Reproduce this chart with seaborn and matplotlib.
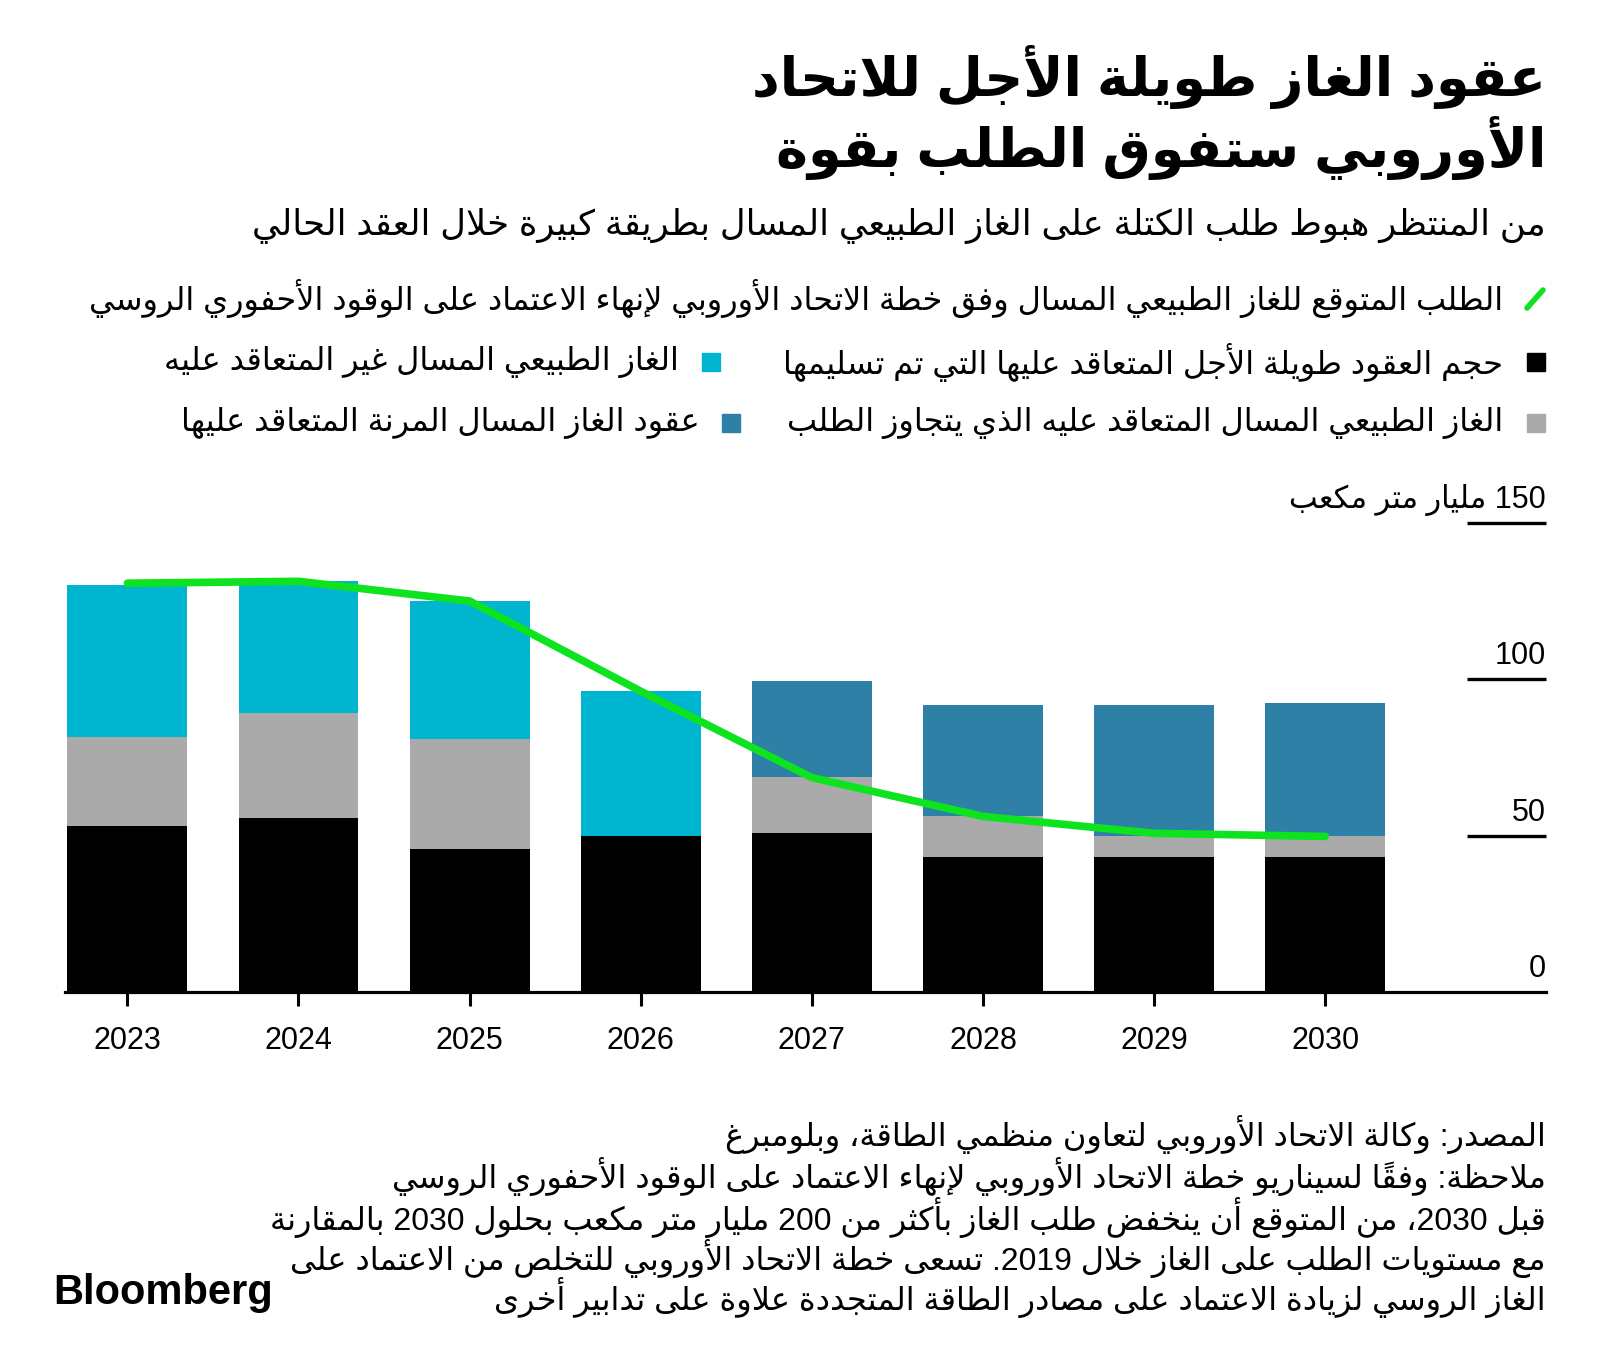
import re
import numpy as np
import pandas as pd
import matplotlib
matplotlib.use('Agg')
import matplotlib.pyplot as plt
from matplotlib.patches import Rectangle
import seaborn as sns

# values in billion cubic metres
years = ['2023', '2024', '2025', '2026', '2027', '2028', '2029', '2030']
delivered = [53.2, 55.6, 45.9, 49.9, 51.0, 43.3, 43.3, 43.3]
excess = [28.4, 33.6, 35.1, 0.0, 17.9, 13.1, 6.6, 6.6]
uncontracted = [48.4, 42.2, 44.0, 46.4, 0.0, 0.0, 0.0, 0.0]
flexible = [0.0, 0.0, 0.0, 0.0, 30.5, 35.4, 41.9, 42.4]
demand = [130.7, 131.3, 125.0, 96.2, 68.6, 56.2, 50.8, 49.8]
ytick_vals = [0, 50, 100, 150]

title_lines = ['عقود الغاز طويلة الأجل للاتحاد', 'الأوروبي ستفوق الطلب بقوة']
subtitle = 'من المنتظر هبوط طلب الكتلة على الغاز الطبيعي المسال بطريقة كبيرة خلال العقد الحالي'
lbl_demand = 'الطلب المتوقع للغاز الطبيعي المسال وفق خطة الاتحاد الأوروبي لإنهاء الاعتماد على الوقود الأحفوري الروسي'
lbl_delivered = 'حجم العقود طويلة الأجل المتعاقد عليها التي تم تسليمها'
lbl_uncontracted = 'الغاز الطبيعي المسال غير المتعاقد عليه'
lbl_excess = 'الغاز الطبيعي المسال المتعاقد عليه الذي يتجاوز الطلب'
lbl_flexible = 'عقود الغاز المسال المرنة المتعاقد عليها'
unit = 'مليار متر مكعب'
notes = [
    'المصدر: وكالة الاتحاد الأوروبي لتعاون منظمي الطاقة، وبلومبرغ',
    'ملاحظة: وفقاً لسيناريو خطة الاتحاد الأوروبي لإنهاء الاعتماد على الوقود الأحفوري الروسي',
    'قبل 2030، من المتوقع أن ينخفض طلب الغاز بأكثر من 200 مليار متر مكعب بحلول 2030 بالمقارنة',
    'مع مستويات الطلب على الغاز خلال 2019. تسعى خطة الاتحاد الأوروبي للتخلص من الاعتماد على',
    'الغاز الروسي لزيادة الاعتماد على مصادر الطاقة المتجددة علاوة على تدابير أخرى',
]

BLACK = '#000000'
GRAY = '#aaaaaa'
CYAN = '#00b5d0'
BLUE = '#2f80a7'
GREEN = '#0de31f'

# --- minimal arabic shaping + right-to-left ordering (matplotlib has no bidi) ---
counts = [1, 2, 2, 2, 2, 4, 2, 4, 2, 4, 4, 4, 4, 4, 2, 2, 2, 2, 4, 4, 4, 4, 4, 4, 4, 4,
          4, 4, 4, 4, 4, 4, 4, 2, 2, 4]
letters = list(range(0x621, 0x63B)) + list(range(0x641, 0x64B))
FORMS = {}
code = 0xFE80
for cp, n in zip(letters, counts):
    FORMS[chr(cp)] = [chr(code + k) for k in range(n)]
    code += n
LAM_ALEF = {'\u0622': '\ue000', '\u0623': '\ue001', '\u0625': '\ue002', '\u0627': '\ue003'}
for k, pua in enumerate(LAM_ALEF.values()):
    FORMS[pua] = [chr(0xFEF5 + 2 * k), chr(0xFEF6 + 2 * k)]


def is_mark(c):
    return '\u064b' <= c <= '\u065f' or c == '\u0670'


def n_forms(c):
    return 4 if c == '\u0640' else len(FORMS.get(c, []))


def ar(text):
    for alef, pua in LAM_ALEF.items():
        text = text.replace('\u0644' + alef, pua)
    out = []
    for i, c in enumerate(text):
        if c not in FORMS:
            out.append(c)
            continue
        j = i - 1
        while j >= 0 and is_mark(text[j]):
            j -= 1
        k = i + 1
        while k < len(text) and is_mark(text[k]):
            k += 1
        prev_j = j >= 0 and n_forms(text[j]) == 4
        next_j = k < len(text) and n_forms(text[k]) >= 2 and n_forms(c) == 4
        forms = FORMS[c]
        if len(forms) == 1:
            idx = 0
        elif prev_j and next_j:
            idx = 3
        elif prev_j:
            idx = 1
        elif next_j:
            idx = 2
        else:
            idx = 0
        out.append(forms[idx])
    tokens = re.findall(r'[0-9A-Za-z]+(?:[.,][0-9]+)*|.[\u064b-\u065f\u0670]*', ''.join(out))
    return ''.join(reversed(tokens))


sns.set_style('white')
plt.rcParams['font.family'] = ['Liberation Sans', 'DejaVu Sans']
plt.rcParams['text.color'] = 'black'
plt.rcParams['xtick.color'] = 'black'

df = pd.DataFrame({'year': years, 'delivered': delivered, 'excess': excess,
                   'uncontracted': uncontracted, 'flexible': flexible})
df['top'] = df['delivered'] + df['excess'] + df['uncontracted'] + df['flexible']
df['mid'] = df['delivered'] + df['excess']
top_colors = {y: (CYAN if u > 0 else BLUE) for y, u in zip(years, uncontracted)}

fig = plt.figure(figsize=(16, 13.71), dpi=100)
ax = fig.add_axes([0.0409, 0.2762, 0.9253, 0.3539])

sns.barplot(data=df, x='year', y='top', hue='year', palette=top_colors, legend=False,
            width=0.7, saturation=1, errorbar=None, linewidth=0, ax=ax)
sns.barplot(data=df, x='year', y='mid', color=GRAY, width=0.7, saturation=1,
            errorbar=None, linewidth=0, ax=ax)
sns.barplot(data=df, x='year', y='delivered', color=BLACK, width=0.7, saturation=1,
            errorbar=None, linewidth=0, ax=ax)
sns.lineplot(x=np.arange(len(years)), y=demand, color=GREEN, linewidth=5.5,
             solid_capstyle='round', ax=ax, zorder=5)

ax.set_xlim(-0.362, 8.29)
ax.set_ylim(0, 155)
ax.set_xlabel('')
ax.set_ylabel('')
ax.set_yticks([])
ax.set_xticks(range(len(years)), years)
sns.despine(ax=ax, left=True, top=True, right=True)
ax.spines['bottom'].set_linewidth(2.3)
ax.spines['bottom'].set_color('black')
ax.tick_params(axis='x', length=10, width=2.2, color='black', labelcolor='black',
               pad=14, labelsize=22, bottom=True)

ytr = ax.get_yaxis_transform()
ax.hlines(ytick_vals[1:], 0.9466, 1.0, transform=ytr, color='black', lw=2.4, clip_on=False)
for v in ytick_vals:
    lab = str(v) if v != 150 else ar('150 ' + unit)
    ax.annotate(lab, (1.0, v), xycoords=ytr, xytext=(0, 11), textcoords='offset points',
                ha='right', va='baseline', fontsize=22, annotation_clip=False)

# text layer in pixel coordinates
ov = fig.add_axes([0, 0, 1, 1])
ov.set_xlim(0, 1600)
ov.set_ylim(1371, 0)
ov.axis('off')


def rtl(x, y, s, size, weight='normal'):
    ov.text(x, y, ar(s), fontsize=size, fontweight=weight, ha='right', va='center')


rtl(1546, 77, title_lines[0], 39, 'bold')
rtl(1546, 148, title_lines[1], 39, 'bold')
rtl(1546, 226, subtitle, 25.5)

rtl(1503, 299, lbl_demand, 23)
ov.plot([1527, 1543], [308, 290], color=GREEN, lw=4)
rtl(1503, 362, lbl_delivered, 23)
ov.add_patch(Rectangle((1527, 353), 18, 18, color=BLACK))
rtl(679, 362, lbl_uncontracted, 23)
ov.add_patch(Rectangle((702, 353), 18, 18, color=CYAN))
rtl(1503, 423, lbl_excess, 23)
ov.add_patch(Rectangle((1527, 414), 18, 18, color=GRAY))
rtl(700, 423, lbl_flexible, 23)
ov.add_patch(Rectangle((722, 414), 18, 18, color=BLUE))

for y, line in zip([1135, 1177, 1217, 1258, 1298], notes):
    rtl(1546, y, line, 23)

ov.text(53, 1293, 'Bloomberg', fontsize=30, fontweight='bold', ha='left', va='center')

fig.savefig('out.png', dpi=100)
